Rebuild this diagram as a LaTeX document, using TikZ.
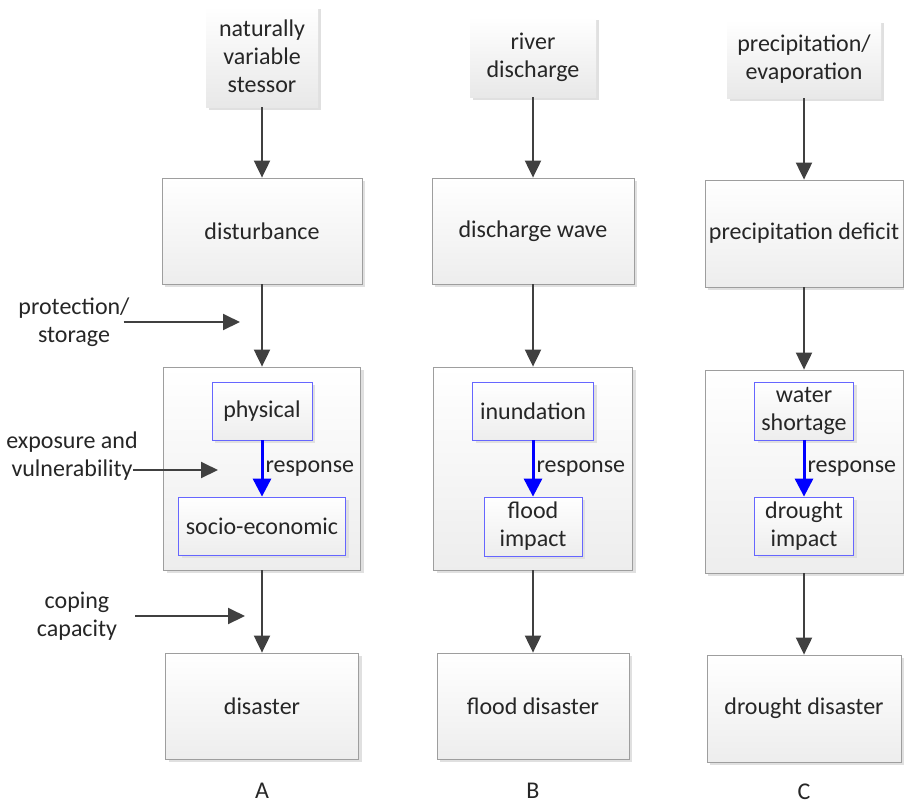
\documentclass[tikz,border=0pt]{standalone}
\usepackage{fontspec}
\setmainfont{Carlito}
\usetikzlibrary{arrows.meta,shadows}

\tikzset{
  box/.style={draw=black!38, line width=0.8pt, top color=white, bottom color=black!7,
    drop shadow={shadow xshift=3pt,shadow yshift=-3pt,fill=black!12,opacity=1},
    align=center, inner sep=0pt},
  source/.style={top color=white, bottom color=black!9,
    drop shadow={shadow xshift=3pt,shadow yshift=-3pt,fill=black!12,opacity=1},
    align=center, inner sep=0pt},
  inner/.style={box, draw=blue!60},
  side/.style={align=center, inner sep=0pt},
  flow/.style={draw=black!75, line width=2pt, -{Triangle[length=17pt,width=16pt]}},
  resp/.style={draw=blue, line width=3pt, -{Triangle[length=18pt,width=18pt]}}
}

\begin{document}
\begin{tikzpicture}[x=1pt,y=-1pt,font=\fontsize{24}{28}\selectfont,text=black!85]
\useasboundingbox (0,0) rectangle (904,807);
\pgfmathsetmacro\xa{262}
\pgfmathsetmacro\xb{533}
\pgfmathsetmacro\xc{804}
% column A
\node[source, minimum width=112pt, minimum height=101pt] (srcA) at (\xa,56.5) {naturally\\variable\\stessor};
\node[box, minimum width=200pt, minimum height=106pt] (distA) at (\xa,231) {disturbance};
\node[box, minimum width=197pt, minimum height=203pt] (midA) at (\xa,468.5) {};
\node[inner, minimum width=100pt, minimum height=58pt] (physA) at (\xa,411) {physical};
\node[inner, minimum width=167pt, minimum height=58pt] (socA) at (\xa,526) {socio-economic};
\node[box, minimum width=193pt, minimum height=106pt] (disA) at (\xa,706) {disaster};
\node (labA) at (\xa,791) {A};
% column B
\node[source, minimum width=126pt, minimum height=80pt] (srcB) at (\xb,57) {river\\discharge};
\node[box, minimum width=202pt, minimum height=106pt] (distB) at (\xb,231) {discharge wave};
\node[box, minimum width=199pt, minimum height=203pt] (midB) at (\xb,468.5) {};
\node[inner, minimum width=121pt, minimum height=58pt] (physB) at (\xb,411) {inundation};
\node[inner, minimum width=98pt, minimum height=59pt] (socB) at (\xb,526.5) {flood\\impact};
\node[box, minimum width=192pt, minimum height=106pt] (disB) at (\xb,706) {flood disaster};
\node (labB) at (\xb,791) {B};
% column C
\node[source, minimum width=154pt, minimum height=78pt] (srcC) at (\xc,59) {precipitation/\\evaporation};
\node[box, minimum width=198pt, minimum height=107pt] (distC) at (\xc,233.5) {precipitation deficit};
\node[box, minimum width=198pt, minimum height=203pt] (midC) at (\xc,471.5) {};
\node[inner, minimum width=99pt, minimum height=58pt] (physC) at (\xc,411) {water\\shortage};
\node[inner, minimum width=99pt, minimum height=58pt] (socC) at (\xc,526) {drought\\impact};
\node[box, minimum width=194pt, minimum height=107pt] (disC) at (\xc,708.5) {drought disaster};
\node (labC) at (\xc,792) {C};
% side labels
\node[side] (prot) at (74,322) {protection/\\storage};
\node[side] (expo) at (72,456) {exposure and\\vulnerability};
\node[side] (cope) at (77,616) {coping\\capacity};
\coordinate (protend) at (240,322);
\coordinate (expoend) at (218,470);
\coordinate (copeend) at (245,616);

\foreach \c in {A,B,C}{
  \draw[flow] (src\c.south) -- (dist\c.north);
  \draw[flow] (dist\c.south) -- (mid\c.north);
  \draw[flow] (mid\c.south) -- (dis\c.north);
  \draw[resp] (phys\c.south) -- node[right, inner sep=2pt, text=black!85] {response} (soc\c.north);
}
\draw[flow] ([xshift=-6pt]prot.east) -- (protend);
\draw[flow] ([xshift=-5pt,yshift=-14pt]expo.east) -- (expoend);
\draw[flow] ([xshift=18pt]cope.east) -- (copeend);
\end{tikzpicture}
\end{document}
